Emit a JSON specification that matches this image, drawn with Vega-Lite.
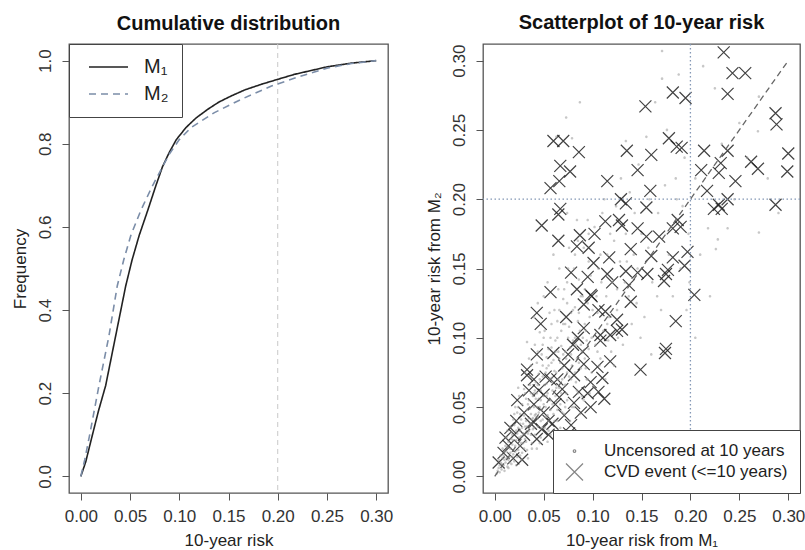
{
  "$schema": "https://vega.github.io/schema/vega-lite/v6.json",
  "padding": {"left": 10, "top": 12, "right": 0, "bottom": 0},
  "background": "white",
  "spacing": 95,
  "bounds": "flush",
  "resolve": {
    "scale": {"color": "independent", "strokeDash": "independent", "shape": "independent"},
    "legend": {"color": "independent", "strokeDash": "independent", "shape": "independent"}
  },
  "config": {
    "font": "Liberation Sans",
    "view": {"stroke": "#555", "strokeWidth": 1.3},
    "axis": {"labelFont": "Liberation Sans", "labelFontSize": 17, "labelColor": "#333", "titleFont": "Liberation Sans", "titleFontSize": 17, "titleFontWeight": "normal", "titleColor": "#222", "tickColor": "#555", "tickSize": 7, "tickWidth": 1, "domain": false, "grid": false, "labelPadding": 8, "labelFlush": false, "labelOverlap": false, "labelBound": false},
    "axisX": {"titlePadding": 8},
    "axisY": {"titlePadding": 7, "labelAngle": -90, "labelAlign": "center", "labelBaseline": "bottom"},
    "title": {"font": "Liberation Sans", "fontSize": 20, "fontWeight": "bold", "color": "#111", "offset": 10},
    "legend": {"labelFont": "Liberation Sans", "labelLimit": 400}
  },
  "datasets": {
    "cdf": [
      {"model": "M₁", "risk": 0.0, "freq": 0.0},
      {"model": "M₁", "risk": 0.005, "freq": 0.035},
      {"model": "M₁", "risk": 0.0116, "freq": 0.098},
      {"model": "M₁", "risk": 0.018, "freq": 0.158},
      {"model": "M₁", "risk": 0.0252, "freq": 0.218},
      {"model": "M₁", "risk": 0.0354, "freq": 0.338},
      {"model": "M₁", "risk": 0.0456, "freq": 0.458},
      {"model": "M₁", "risk": 0.052, "freq": 0.52},
      {"model": "M₁", "risk": 0.0592, "freq": 0.579},
      {"model": "M₁", "risk": 0.068, "freq": 0.64},
      {"model": "M₁", "risk": 0.0762, "freq": 0.699},
      {"model": "M₁", "risk": 0.083, "freq": 0.745},
      {"model": "M₁", "risk": 0.0898, "freq": 0.779},
      {"model": "M₁", "risk": 0.097, "freq": 0.81},
      {"model": "M₁", "risk": 0.1068, "freq": 0.839},
      {"model": "M₁", "risk": 0.117, "freq": 0.862},
      {"model": "M₁", "risk": 0.129, "freq": 0.883},
      {"model": "M₁", "risk": 0.14, "freq": 0.9},
      {"model": "M₁", "risk": 0.1527, "freq": 0.915},
      {"model": "M₁", "risk": 0.167, "freq": 0.93},
      {"model": "M₁", "risk": 0.1833, "freq": 0.943},
      {"model": "M₁", "risk": 0.2, "freq": 0.955},
      {"model": "M₁", "risk": 0.217, "freq": 0.967},
      {"model": "M₁", "risk": 0.25, "freq": 0.985},
      {"model": "M₁", "risk": 0.275, "freq": 0.994},
      {"model": "M₁", "risk": 0.3, "freq": 1.0},
      {"model": "M₂", "risk": 0.0, "freq": 0.0},
      {"model": "M₂", "risk": 0.004, "freq": 0.04},
      {"model": "M₂", "risk": 0.009, "freq": 0.1},
      {"model": "M₂", "risk": 0.0184, "freq": 0.218},
      {"model": "M₂", "risk": 0.0286, "freq": 0.338},
      {"model": "M₂", "risk": 0.037, "freq": 0.458},
      {"model": "M₂", "risk": 0.0435, "freq": 0.52},
      {"model": "M₂", "risk": 0.0507, "freq": 0.579},
      {"model": "M₂", "risk": 0.061, "freq": 0.64},
      {"model": "M₂", "risk": 0.0728, "freq": 0.699},
      {"model": "M₂", "risk": 0.082, "freq": 0.74},
      {"model": "M₂", "risk": 0.0898, "freq": 0.775},
      {"model": "M₂", "risk": 0.1, "freq": 0.81},
      {"model": "M₂", "risk": 0.112, "freq": 0.839},
      {"model": "M₂", "risk": 0.1357, "freq": 0.875},
      {"model": "M₂", "risk": 0.163, "freq": 0.907},
      {"model": "M₂", "risk": 0.1936, "freq": 0.939},
      {"model": "M₂", "risk": 0.22, "freq": 0.96},
      {"model": "M₂", "risk": 0.25, "freq": 0.982},
      {"model": "M₂", "risk": 0.275, "freq": 0.993},
      {"model": "M₂", "risk": 0.3, "freq": 1.0}
    ],
    "events": [
      {"x":0.234,"y":0.306},{"x":0.243,"y":0.291},{"x":0.256,"y":0.291},{"x":0.238,"y":0.276},{"x":0.182,"y":0.277},{"x":0.195,"y":0.273},{"x":0.154,"y":0.267},{"x":0.287,"y":0.262},{"x":0.288,"y":0.254},{"x":0.060,"y":0.242},{"x":0.070,"y":0.242},{"x":0.086,"y":0.234},{"x":0.135,"y":0.235},{"x":0.178,"y":0.244},{"x":0.186,"y":0.238},{"x":0.191,"y":0.237},{"x":0.160,"y":0.232},{"x":0.214,"y":0.235},{"x":0.238,"y":0.235},{"x":0.300,"y":0.233},{"x":0.262,"y":0.227},{"x":0.269,"y":0.222},{"x":0.211,"y":0.221},{"x":0.229,"y":0.219},{"x":0.299,"y":0.220},{"x":0.246,"y":0.213},{"x":0.231,"y":0.226},{"x":0.159,"y":0.206},{"x":0.217,"y":0.206},{"x":0.067,"y":0.224},{"x":0.077,"y":0.220},{"x":0.146,"y":0.221},{"x":0.066,"y":0.213},{"x":0.115,"y":0.213},{"x":0.057,"y":0.208},
      {"x":0.155,"y":0.194},{"x":0.224,"y":0.193},{"x":0.232,"y":0.193},{"x":0.229,"y":0.196},{"x":0.238,"y":0.200},{"x":0.287,"y":0.196},{"x":0.129,"y":0.200},{"x":0.134,"y":0.197},{"x":0.067,"y":0.193},{"x":0.065,"y":0.189},{"x":0.048,"y":0.181},{"x":0.113,"y":0.184},{"x":0.127,"y":0.185},{"x":0.130,"y":0.181},{"x":0.146,"y":0.179},{"x":0.187,"y":0.185},{"x":0.190,"y":0.180},{"x":0.182,"y":0.179},{"x":0.155,"y":0.173},{"x":0.168,"y":0.173},{"x":0.065,"y":0.170},{"x":0.087,"y":0.174},{"x":0.102,"y":0.175},{"x":0.084,"y":0.166},{"x":0.096,"y":0.165},{"x":0.139,"y":0.164},{"x":0.197,"y":0.162},{"x":0.160,"y":0.159},{"x":0.182,"y":0.158},{"x":0.194,"y":0.152},{"x":0.117,"y":0.158},{"x":0.101,"y":0.154},{"x":0.078,"y":0.147},{"x":0.095,"y":0.144},{"x":0.115,"y":0.146},{"x":0.120,"y":0.140},{"x":0.134,"y":0.148},{"x":0.137,"y":0.138},{"x":0.156,"y":0.146},{"x":0.175,"y":0.146},{"x":0.173,"y":0.141},{"x":0.177,"y":0.149},{"x":0.084,"y":0.135},{"x":0.098,"y":0.131},{"x":0.057,"y":0.133},{"x":0.204,"y":0.131},{"x":0.139,"y":0.126},{"x":0.091,"y":0.124},{"x":0.106,"y":0.120},{"x":0.113,"y":0.119},{"x":0.043,"y":0.118},{"x":0.047,"y":0.110},{"x":0.073,"y":0.115},{"x":0.091,"y":0.107},{"x":0.125,"y":0.113},{"x":0.125,"y":0.105},{"x":0.108,"y":0.102},{"x":0.118,"y":0.102},{"x":0.185,"y":0.112},{"x":0.175,"y":0.092},{"x":0.174,"y":0.089},{"x":0.146,"y":0.147},{"x":0.099,"y":0.130},{"x":0.108,"y":0.098},{"x":0.130,"y":0.106},
      {"x":0.080,"y":0.095},{"x":0.043,"y":0.088},{"x":0.060,"y":0.089},{"x":0.033,"y":0.077},{"x":0.033,"y":0.073},{"x":0.071,"y":0.080},{"x":0.091,"y":0.081},{"x":0.105,"y":0.079},{"x":0.118,"y":0.083},{"x":0.149,"y":0.077},{"x":0.057,"y":0.070},{"x":0.081,"y":0.073},{"x":0.098,"y":0.068},{"x":0.110,"y":0.071},{"x":0.069,"y":0.063},{"x":0.086,"y":0.061},{"x":0.106,"y":0.061},{"x":0.050,"y":0.059},{"x":0.023,"y":0.055},{"x":0.040,"y":0.052},{"x":0.062,"y":0.052},{"x":0.081,"y":0.053},{"x":0.098,"y":0.050},{"x":0.112,"y":0.056},{"x":0.030,"y":0.046},{"x":0.050,"y":0.046},{"x":0.071,"y":0.044},{"x":0.088,"y":0.046},{"x":0.040,"y":0.039},{"x":0.059,"y":0.038},{"x":0.016,"y":0.035},{"x":0.078,"y":0.037},{"x":0.011,"y":0.028},{"x":0.026,"y":0.022},{"x":0.009,"y":0.017},{"x":0.019,"y":0.013},{"x":0.043,"y":0.027},{"x":0.037,"y":0.038},{"x":0.076,"y":0.031},{"x":0.078,"y":0.020},{"x":0.004,"y":0.010},
      {"x":0.030,"y":0.030},{"x":0.022,"y":0.040},{"x":0.045,"y":0.062},{"x":0.052,"y":0.072},{"x":0.066,"y":0.057},{"x":0.035,"y":0.062},{"x":0.014,"y":0.022},{"x":0.055,"y":0.040},{"x":0.048,"y":0.034},{"x":0.064,"y":0.070},{"x":0.090,"y":0.090},{"x":0.075,"y":0.088},{"x":0.028,"y":0.012},{"x":0.055,"y":0.030},{"x":0.095,"y":0.060},{"x":0.085,"y":0.100},{"x":0.040,"y":0.070},{"x":0.020,"y":0.030}
    ],
    "dots": [
      {"x":0.002,"y":0.002},{"x":0.004,"y":0.006},{"x":0.005,"y":0.003},{"x":0.006,"y":0.010},{"x":0.007,"y":0.005},{"x":0.008,"y":0.013},{"x":0.009,"y":0.008},{"x":0.003,"y":0.004},{"x":0.006,"y":0.015},{"x":0.010,"y":0.012},{"x":0.010,"y":0.004},{"x":0.008,"y":0.020},{"x":0.005,"y":0.008},
      {"x":0.011,"y":0.010},{"x":0.012,"y":0.018},{"x":0.013,"y":0.007},{"x":0.014,"y":0.025},{"x":0.015,"y":0.014},{"x":0.016,"y":0.020},{"x":0.017,"y":0.009},{"x":0.018,"y":0.030},{"x":0.019,"y":0.016},{"x":0.012,"y":0.028},{"x":0.014,"y":0.012},{"x":0.016,"y":0.036},{"x":0.018,"y":0.023},{"x":0.020,"y":0.011},{"x":0.013,"y":0.033},{"x":0.019,"y":0.041},{"x":0.011,"y":0.022},{"x":0.017,"y":0.027},
      {"x":0.021,"y":0.018},{"x":0.022,"y":0.026},{"x":0.023,"y":0.014},{"x":0.024,"y":0.035},{"x":0.025,"y":0.022},{"x":0.026,"y":0.045},{"x":0.027,"y":0.029},{"x":0.028,"y":0.017},{"x":0.029,"y":0.038},{"x":0.021,"y":0.050},{"x":0.023,"y":0.031},{"x":0.025,"y":0.058},{"x":0.027,"y":0.041},{"x":0.029,"y":0.024},{"x":0.022,"y":0.008},{"x":0.024,"y":0.064},{"x":0.026,"y":0.033},{"x":0.028,"y":0.052},{"x":0.030,"y":0.020},{"x":0.020,"y":0.037},{"x":0.027,"y":0.012},{"x":0.023,"y":0.046},
      {"x":0.031,"y":0.027},{"x":0.032,"y":0.040},{"x":0.033,"y":0.019},{"x":0.034,"y":0.052},{"x":0.035,"y":0.033},{"x":0.036,"y":0.066},{"x":0.037,"y":0.045},{"x":0.038,"y":0.024},{"x":0.039,"y":0.058},{"x":0.031,"y":0.075},{"x":0.033,"y":0.036},{"x":0.035,"y":0.085},{"x":0.037,"y":0.030},{"x":0.039,"y":0.042},{"x":0.032,"y":0.056},{"x":0.034,"y":0.013},{"x":0.036,"y":0.049},{"x":0.038,"y":0.071},{"x":0.040,"y":0.035},{"x":0.030,"y":0.063},{"x":0.033,"y":0.097},{"x":0.037,"y":0.080},{"x":0.040,"y":0.050},{"x":0.035,"y":0.042},
      {"x":0.041,"y":0.030},{"x":0.042,"y":0.045},{"x":0.043,"y":0.060},{"x":0.044,"y":0.036},{"x":0.045,"y":0.074},{"x":0.046,"y":0.050},{"x":0.047,"y":0.028},{"x":0.048,"y":0.088},{"x":0.049,"y":0.041},{"x":0.041,"y":0.095},{"x":0.042,"y":0.056},{"x":0.043,"y":0.020},{"x":0.044,"y":0.066},{"x":0.046,"y":0.104},{"x":0.047,"y":0.055},{"x":0.048,"y":0.035},{"x":0.049,"y":0.072},{"x":0.045,"y":0.046},{"x":0.043,"y":0.082},{"x":0.041,"y":0.062},{"x":0.050,"y":0.058},{"x":0.040,"y":0.115},{"x":0.044,"y":0.125},{"x":0.047,"y":0.040},{"x":0.049,"y":0.095},
      {"x":0.051,"y":0.035},{"x":0.052,"y":0.050},{"x":0.053,"y":0.067},{"x":0.054,"y":0.044},{"x":0.055,"y":0.080},{"x":0.056,"y":0.056},{"x":0.057,"y":0.030},{"x":0.058,"y":0.093},{"x":0.059,"y":0.062},{"x":0.051,"y":0.105},{"x":0.052,"y":0.075},{"x":0.054,"y":0.025},{"x":0.056,"y":0.118},{"x":0.057,"y":0.048},{"x":0.058,"y":0.071},{"x":0.053,"y":0.086},{"x":0.055,"y":0.040},{"x":0.059,"y":0.052},{"x":0.060,"y":0.084},{"x":0.050,"y":0.130},{"x":0.054,"y":0.140},{"x":0.057,"y":0.100},{"x":0.053,"y":0.058},
      {"x":0.061,"y":0.040},{"x":0.062,"y":0.058},{"x":0.063,"y":0.075},{"x":0.064,"y":0.048},{"x":0.065,"y":0.090},{"x":0.066,"y":0.064},{"x":0.067,"y":0.035},{"x":0.068,"y":0.105},{"x":0.069,"y":0.070},{"x":0.061,"y":0.120},{"x":0.063,"y":0.054},{"x":0.065,"y":0.135},{"x":0.067,"y":0.082},{"x":0.069,"y":0.046},{"x":0.062,"y":0.098},{"x":0.066,"y":0.150},{"x":0.068,"y":0.060},{"x":0.064,"y":0.112},{"x":0.070,"y":0.088},{"x":0.060,"y":0.160},{"x":0.063,"y":0.245},{"x":0.070,"y":0.128},
      {"x":0.071,"y":0.045},{"x":0.072,"y":0.066},{"x":0.073,"y":0.085},{"x":0.074,"y":0.055},{"x":0.075,"y":0.100},{"x":0.076,"y":0.072},{"x":0.077,"y":0.040},{"x":0.078,"y":0.118},{"x":0.079,"y":0.080},{"x":0.071,"y":0.135},{"x":0.073,"y":0.060},{"x":0.075,"y":0.150},{"x":0.077,"y":0.093},{"x":0.079,"y":0.050},{"x":0.072,"y":0.110},{"x":0.076,"y":0.165},{"x":0.078,"y":0.070},{"x":0.074,"y":0.125},{"x":0.080,"y":0.098},{"x":0.073,"y":0.259},{"x":0.079,"y":0.244},{"x":0.074,"y":0.190},
      {"x":0.081,"y":0.050},{"x":0.082,"y":0.075},{"x":0.083,"y":0.095},{"x":0.084,"y":0.062},{"x":0.085,"y":0.112},{"x":0.086,"y":0.082},{"x":0.087,"y":0.045},{"x":0.088,"y":0.130},{"x":0.089,"y":0.090},{"x":0.081,"y":0.150},{"x":0.083,"y":0.068},{"x":0.085,"y":0.170},{"x":0.087,"y":0.105},{"x":0.089,"y":0.058},{"x":0.082,"y":0.122},{"x":0.086,"y":0.142},{"x":0.088,"y":0.078},{"x":0.084,"y":0.185},{"x":0.087,"y":0.270},{"x":0.090,"y":0.100},
      {"x":0.091,"y":0.055},{"x":0.092,"y":0.085},{"x":0.093,"y":0.105},{"x":0.094,"y":0.070},{"x":0.095,"y":0.125},{"x":0.096,"y":0.092},{"x":0.097,"y":0.060},{"x":0.098,"y":0.145},{"x":0.099,"y":0.100},{"x":0.091,"y":0.165},{"x":0.093,"y":0.078},{"x":0.095,"y":0.185},{"x":0.097,"y":0.115},{"x":0.099,"y":0.075},{"x":0.092,"y":0.135},{"x":0.096,"y":0.155},
      {"x":0.101,"y":0.065},{"x":0.103,"y":0.095},{"x":0.105,"y":0.118},{"x":0.107,"y":0.080},{"x":0.109,"y":0.140},{"x":0.111,"y":0.105},{"x":0.113,"y":0.070},{"x":0.115,"y":0.160},{"x":0.117,"y":0.115},{"x":0.119,"y":0.090},{"x":0.102,"y":0.180},{"x":0.106,"y":0.150},{"x":0.110,"y":0.190},{"x":0.114,"y":0.130},{"x":0.118,"y":0.175},{"x":0.104,"y":0.130},{"x":0.108,"y":0.085},{"x":0.112,"y":0.200},{"x":0.116,"y":0.098},{"x":0.120,"y":0.140},
      {"x":0.122,"y":0.080},{"x":0.125,"y":0.120},{"x":0.128,"y":0.155},{"x":0.131,"y":0.095},{"x":0.134,"y":0.175},{"x":0.137,"y":0.130},{"x":0.140,"y":0.110},{"x":0.143,"y":0.190},{"x":0.146,"y":0.150},{"x":0.149,"y":0.100},{"x":0.124,"y":0.195},{"x":0.129,"y":0.215},{"x":0.134,"y":0.242},{"x":0.138,"y":0.205},{"x":0.142,"y":0.160},{"x":0.147,"y":0.225},{"x":0.126,"y":0.100},{"x":0.133,"y":0.140},{"x":0.145,"y":0.125},{"x":0.150,"y":0.175},
      {"x":0.153,"y":0.115},{"x":0.157,"y":0.165},{"x":0.161,"y":0.140},{"x":0.164,"y":0.270},{"x":0.167,"y":0.190},{"x":0.170,"y":0.120},{"x":0.174,"y":0.210},{"x":0.178,"y":0.160},{"x":0.182,"y":0.130},{"x":0.186,"y":0.200},{"x":0.190,"y":0.150},{"x":0.194,"y":0.230},{"x":0.198,"y":0.175},{"x":0.171,"y":0.287},{"x":0.171,"y":0.307},{"x":0.188,"y":0.290},{"x":0.166,"y":0.130},{"x":0.158,"y":0.200},{"x":0.176,"y":0.250},{"x":0.192,"y":0.195},{"x":0.196,"y":0.120},{"x":0.160,"y":0.088},{"x":0.155,"y":0.245},{"x":0.199,"y":0.140},{"x":0.185,"y":0.215},
      {"x":0.213,"y":0.296},{"x":0.218,"y":0.179},{"x":0.238,"y":0.179},{"x":0.228,"y":0.171},{"x":0.226,"y":0.164},{"x":0.270,"y":0.176},{"x":0.220,"y":0.130},{"x":0.270,"y":0.274},{"x":0.269,"y":0.249},{"x":0.279,"y":0.215},{"x":0.205,"y":0.215},{"x":0.210,"y":0.160},{"x":0.245,"y":0.200},{"x":0.258,"y":0.230},{"x":0.290,"y":0.190},{"x":0.205,"y":0.100},{"x":0.232,"y":0.240},{"x":0.250,"y":0.255},{"x":0.225,"y":0.280},
      {"x":0.004,"y":0.012},{"x":0.007,"y":0.009},{"x":0.009,"y":0.015},{"x":0.012,"y":0.013},{"x":0.013,"y":0.021},{"x":0.015,"y":0.010},{"x":0.016,"y":0.017},{"x":0.018,"y":0.014},{"x":0.019,"y":0.026},{"x":0.021,"y":0.022},{"x":0.022,"y":0.033},{"x":0.024,"y":0.019},{"x":0.025,"y":0.028},{"x":0.026,"y":0.038},{"x":0.027,"y":0.024},{"x":0.028,"y":0.035},{"x":0.029,"y":0.031},{"x":0.030,"y":0.044},{"x":0.031,"y":0.036},{"x":0.032,"y":0.025},{"x":0.033,"y":0.048},{"x":0.034,"y":0.031},{"x":0.035,"y":0.055},{"x":0.036,"y":0.038},{"x":0.037,"y":0.060},{"x":0.038,"y":0.041},{"x":0.039,"y":0.034},{"x":0.040,"y":0.060},{"x":0.041,"y":0.044},{"x":0.042,"y":0.068},{"x":0.043,"y":0.050},{"x":0.044,"y":0.042},{"x":0.045,"y":0.056},{"x":0.046,"y":0.070},{"x":0.047,"y":0.062},{"x":0.048,"y":0.048},{"x":0.049,"y":0.080},{"x":0.050,"y":0.052},{"x":0.051,"y":0.066},{"x":0.052,"y":0.043},{"x":0.053,"y":0.078},{"x":0.054,"y":0.060},{"x":0.055,"y":0.092},{"x":0.056,"y":0.070},{"x":0.057,"y":0.055},{"x":0.058,"y":0.082},{"x":0.059,"y":0.068},{"x":0.060,"y":0.045},{"x":0.061,"y":0.076},{"x":0.062,"y":0.090},{"x":0.063,"y":0.064},{"x":0.064,"y":0.100},{"x":0.065,"y":0.070},{"x":0.066,"y":0.085},{"x":0.067,"y":0.052},{"x":0.068,"y":0.094},{"x":0.069,"y":0.078},{"x":0.070,"y":0.110},{"x":0.072,"y":0.090},{"x":0.074,"y":0.075},{"x":0.076,"y":0.108},{"x":0.078,"y":0.088},{"x":0.080,"y":0.120},{"x":0.082,"y":0.100},{"x":0.084,"y":0.085},{"x":0.086,"y":0.118},{"x":0.088,"y":0.095},{"x":0.090,"y":0.130},{"x":0.092,"y":0.110},{"x":0.094,"y":0.098},{"x":0.020,"y":0.045},{"x":0.017,"y":0.032},{"x":0.024,"y":0.050},{"x":0.031,"y":0.060},{"x":0.036,"y":0.072},{"x":0.044,"y":0.090},{"x":0.050,"y":0.100},{"x":0.058,"y":0.110},{"x":0.066,"y":0.120},{"x":0.074,"y":0.140},{"x":0.082,"y":0.160},{"x":0.010,"y":0.018},{"x":0.014,"y":0.006},{"x":0.026,"y":0.015},{"x":0.038,"y":0.020},{"x":0.046,"y":0.024},{"x":0.055,"y":0.033},{"x":0.064,"y":0.040},{"x":0.072,"y":0.050},{"x":0.085,"y":0.060},{"x":0.095,"y":0.070},{"x":0.105,"y":0.090},{"x":0.115,"y":0.110},{"x":0.125,"y":0.135},{"x":0.135,"y":0.155},{"x":0.100,"y":0.120},{"x":0.108,"y":0.160},{"x":0.122,"y":0.170},{"x":0.096,"y":0.175}
    ]
  },
  "hconcat": [
    {
      "width": 319,
      "height": 449,
      "title": "Cumulative distribution",
      "layer": [
        {
          "data": {"values": [{"risk": 0.2}]},
          "mark": {"type": "rule", "color": "#c8c8c8", "strokeDash": [5, 4], "strokeWidth": 1},
          "encoding": {
            "x": {"field": "risk", "type": "quantitative", "scale": {"domain": [-0.012, 0.312], "nice": false, "zero": false}, "axis": {"values": [0, 0.05, 0.1, 0.15, 0.2, 0.25, 0.3], "format": ".2f", "title": "10-year risk"}}
          }
        },
        {
          "data": {"name": "cdf"},
          "mark": {"type": "line", "strokeWidth": 1.6, "clip": true},
          "encoding": {
            "x": {"field": "risk", "type": "quantitative", "scale": {"domain": [-0.012, 0.312], "nice": false, "zero": false}, "axis": {"values": [0, 0.05, 0.1, 0.15, 0.2, 0.25, 0.3], "format": ".2f", "title": "10-year risk"}},
            "y": {"field": "freq", "type": "quantitative", "scale": {"domain": [-0.04, 1.04], "nice": false, "zero": false}, "axis": {"values": [0, 0.2, 0.4, 0.6, 0.8, 1], "format": ".1f", "title": "Frequency"}},
            "color": {"field": "model", "type": "nominal", "scale": {"domain": ["M₁", "M₂"], "range": ["#222222", "#7b8da8"]},
              "legend": {"title": null, "orient": "top-left", "offset": 0, "strokeColor": "#444", "fillColor": "white", "padding": 13, "symbolType": "stroke", "symbolSize": 1521, "symbolStrokeWidth": 1.6, "symbolOffset": 6, "clipHeight": 20, "rowPadding": 7, "labelFontSize": 20, "labelColor": "#222", "labelOffset": 15}},
            "strokeDash": {"field": "model", "type": "nominal", "scale": {"domain": ["M₁", "M₂"], "range": [[1, 0], [7, 5]]},
              "legend": {"title": null, "orient": "top-left", "offset": 0, "strokeColor": "#444", "fillColor": "white", "padding": 13, "symbolType": "stroke", "symbolSize": 1521, "symbolStrokeWidth": 1.6, "symbolOffset": 6, "clipHeight": 20, "rowPadding": 7, "labelFontSize": 20, "labelColor": "#222", "labelOffset": 15}}
          }
        }
      ]
    },
    {
      "width": 317,
      "height": 449,
      "title": "Scatterplot of 10-year risk",
      "layer": [
        {
          "data": {"name": "events"},
          "mark": {"type": "point", "filled": false, "color": "#222222", "strokeWidth": 1.2, "opacity": 0.85, "size": 144},
          "encoding": {
            "x": {"field": "x", "type": "quantitative", "scale": {"domain": [-0.012, 0.312], "nice": false, "zero": false}, "axis": {"values": [0, 0.05, 0.1, 0.15, 0.2, 0.25, 0.3], "format": ".2f", "title": "10-year risk from M₁"}},
            "y": {"field": "y", "type": "quantitative", "scale": {"domain": [-0.012, 0.312], "nice": false, "zero": false}, "axis": {"values": [0, 0.05, 0.1, 0.15, 0.2, 0.25, 0.3], "format": ".2f", "title": "10-year risk from M₂"}},
            "shape": {"datum": "CVD event (<=10 years)", "type": "nominal",
              "scale": {"domain": ["Uncensored at 10 years", "CVD event (<=10 years)"], "range": ["M-0.15,0a0.15,0.15 0 1,0 0.3,0a0.15,0.15 0 1,0 -0.3,0", "M-1,-1L1,1M-1,1L1,-1"]},
              "legend": {"title": null, "orient": "bottom-right", "offset": 0, "strokeColor": "#444", "fillColor": "white", "padding": 12, "symbolSize": 289, "clipHeight": 18, "rowPadding": 3, "labelFontSize": 17, "labelColor": "#222", "labelOffset": 20, "labelLimit": 400, "symbolOpacity": 0.55, "symbolStrokeWidth": 1.2}}
          }
        },
        {
          "data": {"name": "dots"},
          "mark": {"type": "point", "filled": true, "color": "#999999", "opacity": 0.55, "size": 300},
          "encoding": {
            "x": {"field": "x", "type": "quantitative"},
            "y": {"field": "y", "type": "quantitative"},
            "shape": {"datum": "Uncensored at 10 years", "type": "nominal"}
          }
        },
        {
          "data": {"values": [{"x": 0.2}]},
          "mark": {"type": "rule", "color": "#8397b5", "strokeDash": [1.5, 2.5], "strokeWidth": 1.3},
          "encoding": {"x": {"field": "x", "type": "quantitative"}}
        },
        {
          "data": {"values": [{"y": 0.2}]},
          "mark": {"type": "rule", "color": "#8397b5", "strokeDash": [1.5, 2.5], "strokeWidth": 1.3},
          "encoding": {"y": {"field": "y", "type": "quantitative"}}
        },
        {
          "data": {"values": [{"x": 0, "y": 0}, {"x": 0.3, "y": 0.3}]},
          "mark": {"type": "line", "color": "#666666", "strokeDash": [6, 4], "strokeWidth": 1.3},
          "encoding": {"x": {"field": "x", "type": "quantitative"}, "y": {"field": "y", "type": "quantitative"}}
        }
      ]
    }
  ]
}
